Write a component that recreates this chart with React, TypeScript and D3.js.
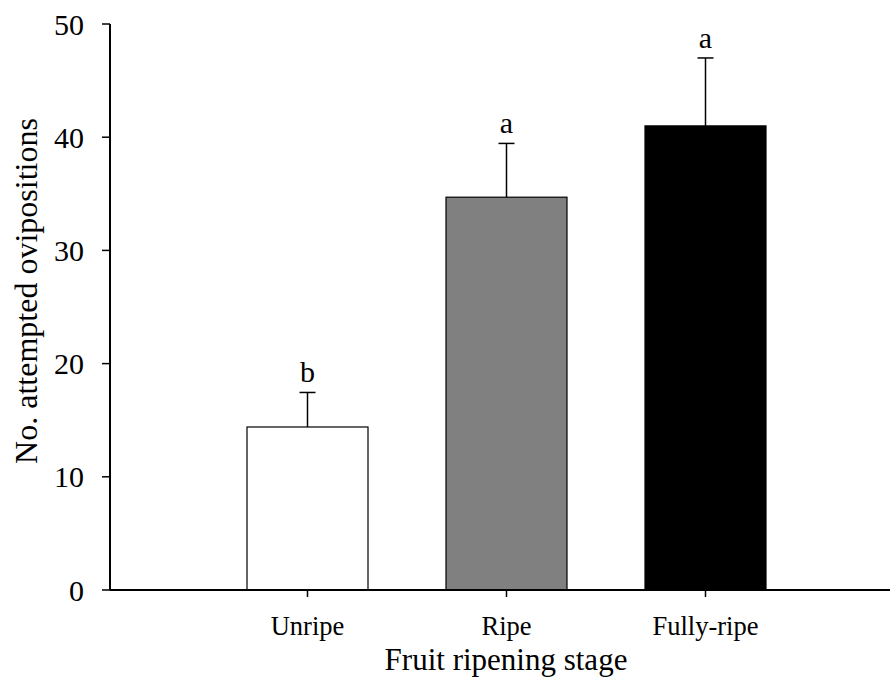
import React from "react";
import * as d3 from "d3";

const categories = ["Unripe", "Ripe", "Fully-ripe"];
const means = [14.4, 34.7, 41.0];
const errors = [3.05, 4.75, 6.0];
const letters = ["b", "a", "a"];
const fills = ["#ffffff", "#808080", "#000000"];
const yTicks = [0, 10, 20, 30, 40, 50];

export default function App() {
  const W = 893, H = 683;
  const axisLeft = 110, axisRight = 890;
  const y = d3.scaleLinear().domain([0, 50]).range([590, 24]);
  const x = d3.scalePoint<string>().domain(categories).range([307.5, 705.5]);
  const barW = 121;
  const font = "'Liberation Serif', 'Times New Roman', serif";
  return (
    <svg width={W} height={H} style={{ position: "absolute", left: 0, top: 0, background: "#fff" }} fontFamily={font}>
      {categories.map((c, i) => {
        const cx = x(c)!;
        const top = y(means[i]);
        const eTop = y(means[i] + errors[i]);
        return (
          <g key={c}>
            <rect x={cx - barW / 2} y={top} width={barW} height={y(0) - top} fill={fills[i]} stroke="#000" strokeWidth={1.2} />
            <line x1={cx} x2={cx} y1={top} y2={eTop} stroke="#000" strokeWidth={1.5} />
            <line x1={cx - 8} x2={cx + 8} y1={eTop} y2={eTop} stroke="#000" strokeWidth={1.5} />
            <text x={cx} y={eTop - 10} textAnchor="middle" fontSize={30} fill="#000">{letters[i]}</text>
            <line x1={cx} x2={cx} y1={y(0)} y2={y(0) + 7} stroke="#000" strokeWidth={1.5} />
            <text x={cx} y={635} textAnchor="middle" fontSize={26.5} fill="#000">{c}</text>
          </g>
        );
      })}
      <line x1={axisLeft} x2={axisLeft} y1={y(50)} y2={y(0)} stroke="#000" strokeWidth={2} />
      <line x1={axisLeft} x2={axisRight} y1={y(0)} y2={y(0)} stroke="#000" strokeWidth={2} />
      {yTicks.map((t) => (
        <g key={t}>
          <line x1={axisLeft - 8} x2={axisLeft} y1={y(t)} y2={y(t)} stroke="#000" strokeWidth={1.5} />
          <text x={84} y={y(t)} dy="0.35em" textAnchor="end" fontSize={30} fill="#000">{t}</text>
        </g>
      ))}
      <text transform={`translate(37, 291) rotate(-90)`} textAnchor="middle" fontSize={32} fill="#000">No. attempted ovipositions</text>
      <text x={506} y={670} textAnchor="middle" fontSize={31} fill="#000">Fruit ripening stage</text>
    </svg>
  );
}
